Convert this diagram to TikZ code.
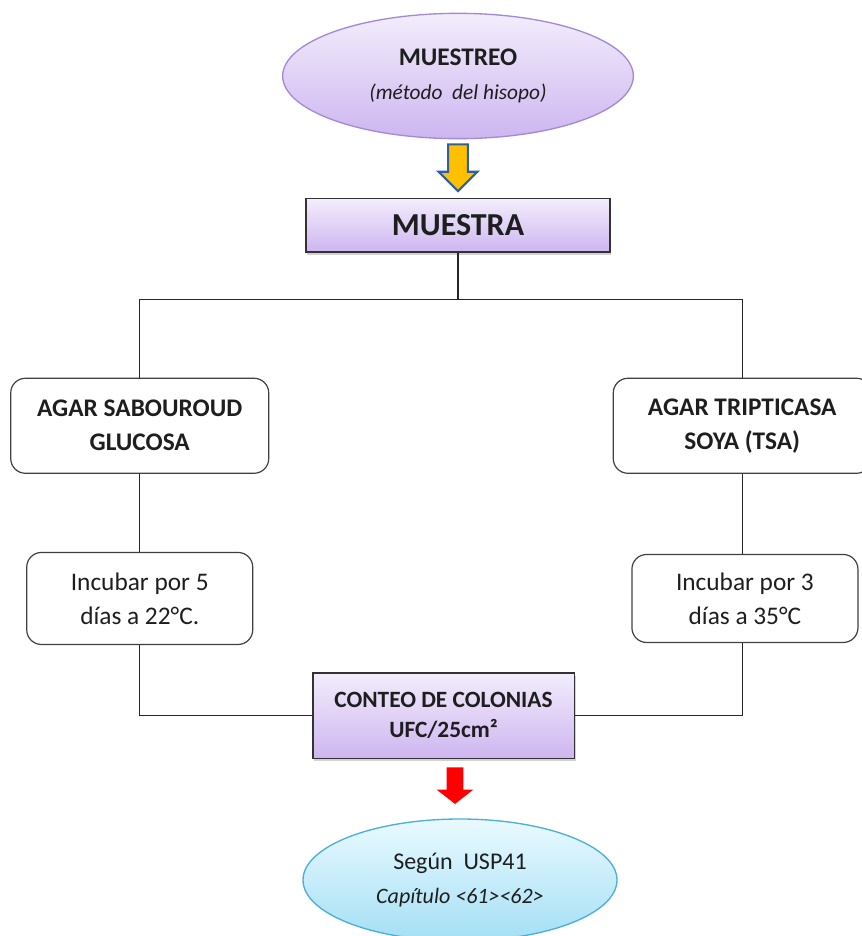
\documentclass[tikz,border=0pt]{standalone}
\usepackage{fontspec}
\setmainfont{Carlito}
\usepackage{xcolor}
\usepackage{tikz}
\usetikzlibrary{positioning,arrows.meta,shapes.geometric,shapes.arrows,shadows,calc}
\definecolor{lilaTop}{HTML}{F3EDFC}
\definecolor{lilaBot}{HTML}{CDB6F0}
\definecolor{lilaLine}{HTML}{A38AD6}
\definecolor{celTop}{HTML}{E9FAFF}
\definecolor{celBot}{HTML}{A4DFF5}
\definecolor{celLine}{HTML}{4BAFD8}
\definecolor{flechaAm}{HTML}{FFC000}
\definecolor{flechaAz}{HTML}{2F5F9E}
\definecolor{texto}{HTML}{1E1E1E}
\tikzset{
  oval/.style={ellipse,inner sep=0pt,align=center,text=texto},
  lila/.style={draw=lilaLine,line width=1pt,shading=axis,top color=lilaTop,bottom color=lilaBot},
  celeste/.style={draw=celLine,line width=1pt,shading=axis,top color=celTop,bottom color=celBot},
  cabeza/.style={draw=black!80,line width=1pt,shading=axis,top color=lilaTop,bottom color=lilaBot,
    align=center,inner sep=0pt,text=texto,drop shadow={shadow xshift=1pt,shadow yshift=-2pt,fill=black!35}},
  caja/.style={draw=black!75,line width=0.9pt,rounded corners=11pt,align=center,inner sep=0pt,text=texto},
  linea/.style={draw=black!85,line width=0.9pt},
  flechaY/.style={single arrow,shape border rotate=270,draw=flechaAz,fill=flechaAm,line width=1.6pt,
    inner sep=6.5pt,minimum height=35pt,minimum width=29pt,single arrow head extend=7pt,single arrow tip angle=90},
  flechaR/.style={single arrow,shape border rotate=270,fill=red,
    inner sep=6pt,minimum height=27.5pt,minimum width=27pt,single arrow head extend=7.5pt,single arrow tip angle=104},
}

\begin{document}
\begin{tikzpicture}[x=0.75pt,y=-0.75pt]
\useasboundingbox (0,0) rectangle (861,936);
% cabecera
\node[oval, lila, minimum width=263pt, minimum height=94pt, font=\fontsize{19}{26}\selectfont] (muestreo) at (458,76)
  {\bfseries MUESTREO\\\fontsize{16}{26}\selectfont\itshape (método\ \ del hisopo)};
\node[flechaY, below=3pt of muestreo] (flecha1) {};
\node[cabeza, below=44pt of muestreo, minimum width=228pt, minimum height=40pt, font=\fontsize{24}{28}\selectfont\bfseries] (muestra)
  {MUESTRA};
% medios
\node[caja, below left=93.75pt and 27pt of muestra, minimum width=193.5pt, minimum height=71.25pt,
  font=\fontsize{19}{25.5}\selectfont\bfseries] (sabouraud) {AGAR SABOUROUD\\GLUCOSA};
\node[caja, below right=93.75pt and 1.5pt of muestra, minimum width=193.5pt, minimum height=71.25pt,
  font=\fontsize{19}{25.5}\selectfont\bfseries] (tsa) {AGAR TRIPTICASA\\SOYA (TSA)};
\node[caja, below=58.5pt of sabouraud, minimum width=169.5pt, minimum height=69pt,
  font=\fontsize{19}{25.5}\selectfont] (incub1) {Incubar por 5\\días a 22°C.};
\node[caja, below=60pt of tsa, minimum width=169.5pt, minimum height=66pt, xshift=2pt,
  font=\fontsize{19}{25.5}\selectfont] (incub2) {Incubar por 3\\días a 35°C};
% resultado
\node[cabeza, minimum width=196pt, minimum height=64pt, font=\fontsize{17.5}{22.5}\selectfont\bfseries] (conteo) at (443.5,715.5)
  {CONTEO DE COLONIAS\\UFC/25cm²};
\node[flechaR, anchor=north] (flecha2) at (455,767) {};
\node[oval, celeste, minimum width=235.5pt, minimum height=91.5pt, font=\fontsize{18}{26}\selectfont] (usp) at (460,880)
  {Según\ \ USP41\\\fontsize{16.5}{26}\selectfont\itshape Capítulo <61><62>};
% conectores
\coordinate (reparto) at ($(muestra.south)+(0,47)$);
\draw[linea] (muestra.south) -- (reparto);
\draw[linea] (reparto) -| (sabouraud.north);
\draw[linea] (reparto) -| (tsa.north);
\draw[linea] (sabouraud) -- (incub1);
\draw[linea] (tsa.south) -- (tsa.south |- incub2.north);
\draw[linea] (incub1.south) |- (conteo.west);
\draw[linea] (tsa.south |- incub2.south) |- (conteo.east);
\end{tikzpicture}
\end{document}
